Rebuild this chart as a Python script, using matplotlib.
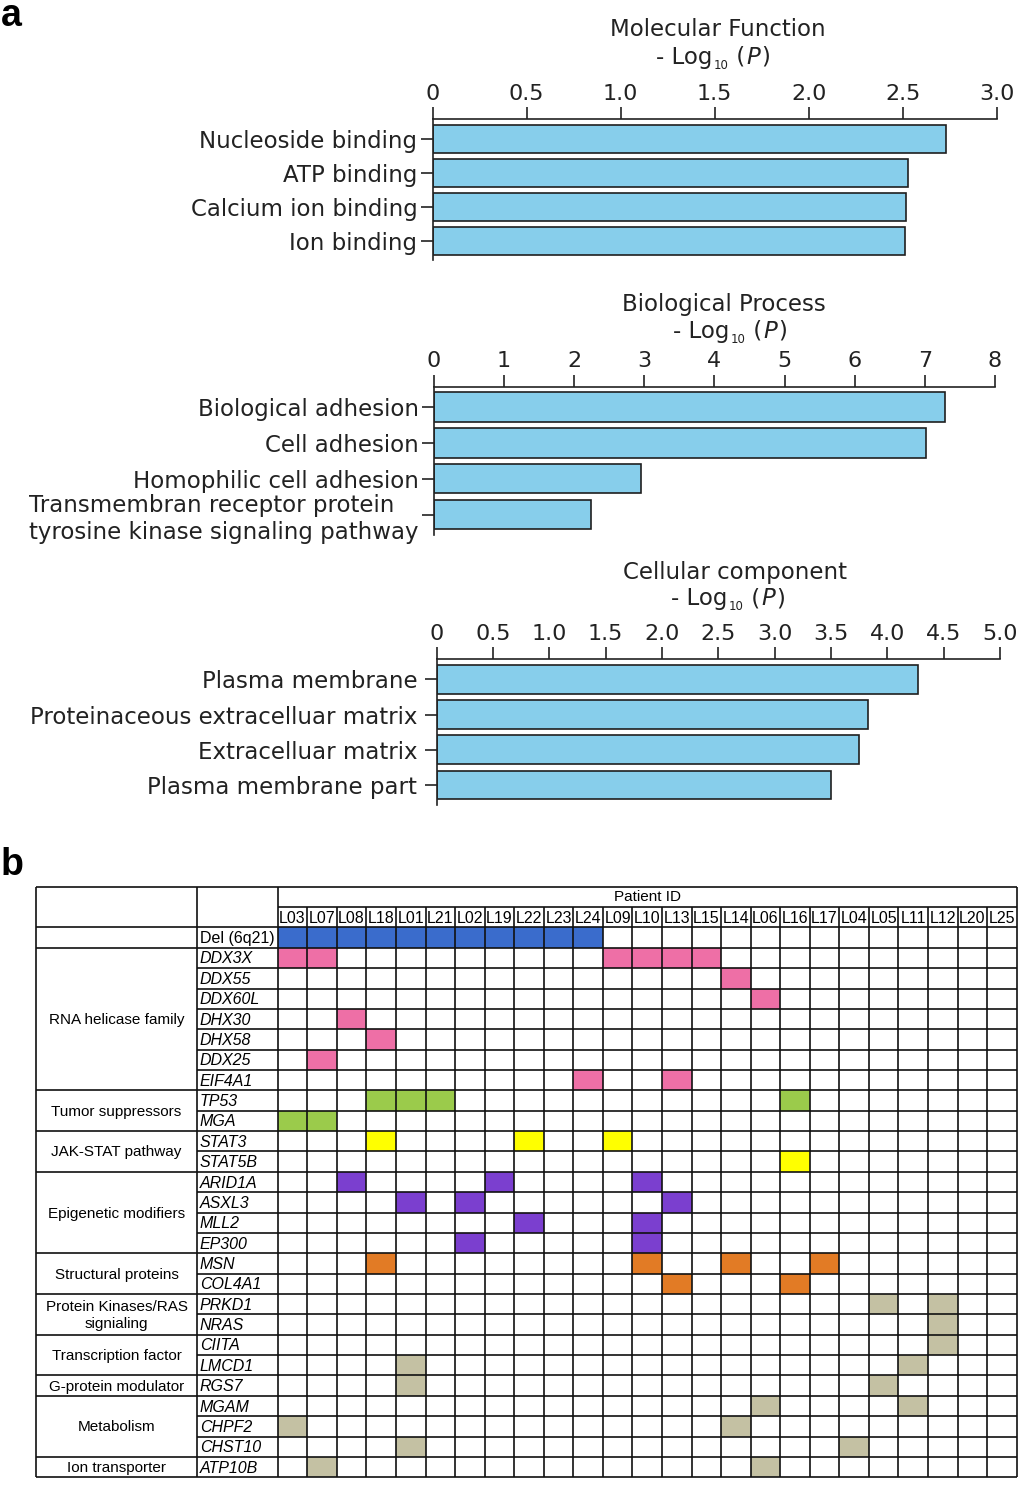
import numpy as np
import matplotlib.pyplot as plt

plt.rcParams['font.family'] = 'DejaVu Sans'

W, H = 1024, 1485

# ---- panel a : GO enrichment ----
mf_terms = ['Nucleoside binding', 'ATP binding', 'Calcium ion binding', 'Ion binding']
mf_vals = [2.73, 2.53, 2.52, 2.51]
mf_ticks = ['0', '0.5', '1.0', '1.5', '2.0', '2.5', '3.0']

bp_terms = ['Biological adhesion', 'Cell adhesion', 'Homophilic cell adhesion',
            'Transmembran receptor protein\ntyrosine kinase signaling pathway']
bp_vals = [7.29, 7.01, 2.95, 2.24]
bp_ticks = ['0', '1', '2', '3', '4', '5', '6', '7', '8']

cc_terms = ['Plasma membrane', 'Proteinaceous extracelluar matrix', 'Extracelluar matrix',
            'Plasma membrane part']
cc_vals = [4.27, 3.83, 3.75, 3.50]
cc_ticks = ['0', '0.5', '1.0', '1.5', '2.0', '2.5', '3.0', '3.5', '4.0', '4.5', '5.0']

# ---- panel b : mutation table ----
patients = ['L03', 'L07', 'L08', 'L18', 'L01', 'L21', 'L02', 'L19', 'L22', 'L23', 'L24',
            'L09', 'L10', 'L13', 'L15', 'L14', 'L06', 'L16', 'L17', 'L04', 'L05', 'L11',
            'L12', 'L20', 'L25']
groups = ['RNA helicase family', 'Tumor suppressors', 'JAK-STAT pathway', 'Epigenetic modifiers',
          'Structural proteins', 'Protein Kinases/RAS\nsignialing', 'Transcription factor',
          'G-protein modulator', 'Metabolism', 'Ion transporter']
group_sizes = [7, 2, 2, 4, 2, 2, 2, 1, 3, 1]
group_colors = ['#ee6fa6', '#9bcb4b', '#ffff00', '#7b3fcf', '#e27b25', '#c4c1a3',
                '#c4c1a3', '#c4c1a3', '#c4c1a3', '#c4c1a3']
genes = ['DDX3X', 'DDX55', 'DDX60L', 'DHX30', 'DHX58', 'DDX25', 'EIF4A1',
         'TP53', 'MGA', 'STAT3', 'STAT5B',
         'ARID1A', 'ASXL3', 'MLL2', 'EP300', 'MSN', 'COL4A1', 'PRKD1', 'NRAS',
         'CIITA', 'LMCD1', 'RGS7', 'MGAM', 'CHPF2', 'CHST10', 'ATP10B']
del_color = '#3a6ccc'
del_6q21 = ['L03', 'L07', 'L08', 'L18', 'L01', 'L21', 'L02', 'L19', 'L22', 'L23', 'L24']
hits = {
    'DDX3X': ['L03', 'L07', 'L09', 'L10', 'L13', 'L15'],
    'DDX55': ['L14'],
    'DDX60L': ['L06'],
    'DHX30': ['L08'],
    'DHX58': ['L18'],
    'DDX25': ['L07'],
    'EIF4A1': ['L24', 'L13'],
    'TP53': ['L18', 'L01', 'L21', 'L16'],
    'MGA': ['L03', 'L07'],
    'STAT3': ['L18', 'L22', 'L09'],
    'STAT5B': ['L16'],
    'ARID1A': ['L08', 'L19', 'L10'],
    'ASXL3': ['L01', 'L02', 'L13'],
    'MLL2': ['L22', 'L10'],
    'EP300': ['L02', 'L10'],
    'MSN': ['L18', 'L10', 'L14', 'L17'],
    'COL4A1': ['L13', 'L16'],
    'PRKD1': ['L05', 'L12'],
    'NRAS': ['L12'],
    'CIITA': ['L12'],
    'LMCD1': ['L01', 'L11'],
    'RGS7': ['L01', 'L05'],
    'MGAM': ['L06', 'L11'],
    'CHPF2': ['L03', 'L14'],
    'CHST10': ['L01', 'L04'],
    'ATP10B': ['L07', 'L06'],
}

fig = plt.figure(figsize=(W / 100, H / 100), dpi=100)
renderer = fig.canvas.get_renderer()
txt_c = '#222222'


def px_axes(left, top, right, bottom):
    return fig.add_axes([left / W, 1 - bottom / H, (right - left) / W, (bottom - top) / H])


def px_text(x, y, s, **kw):
    return fig.text(x / W, 1 - y / H, s, **kw)


def log_label(cx, y):
    # "- Log10 (P)" with a small subscript and italic P
    parts = [('- Log', 16.5, 'normal', 0), ('10', 8.5, 'normal', 5), (' (', 16.5, 'normal', 0),
             ('P', 16.5, 'italic', 0), (')', 16.5, 'normal', 0)]
    widths = []
    for s, fs, st, dy in parts:
        t = px_text(0, 0, s, fontsize=fs, style=st)
        widths.append(t.get_window_extent(renderer).width)
        t.remove()
    x = cx - sum(widths) / 2
    for (s, fs, st, dy), w in zip(parts, widths):
        px_text(x, y + 7 + dy, s, fontsize=fs, style=st, ha='left', va='baseline', color=txt_c)
        x += w + 1


def go_panel(box, terms, vals, ticklabels, step, label_pad):
    ax = px_axes(*box)
    y = np.arange(len(terms))
    ax.barh(y, vals, height=0.82, color='#87ceeb', edgecolor='#1f1f1f', linewidth=1.2)
    xmax = step * (len(ticklabels) - 1)
    ax.set_xlim(0, xmax)
    ax.set_ylim(len(terms) - 0.43, -0.57)
    ax.xaxis.tick_top()
    ax.set_xticks(np.arange(len(ticklabels)) * step)
    ax.set_xticklabels(ticklabels, fontsize=16, color=txt_c)
    ax.set_yticks(y)
    ax.set_yticklabels(terms, fontsize=16.5, color=txt_c, multialignment='left')
    ax.tick_params(axis='x', length=9, width=1.2, pad=2, color=txt_c)
    ax.tick_params(axis='y', length=9, width=1.2, pad=label_pad, color=txt_c)
    for s in ['right', 'bottom']:
        ax.spines[s].set_visible(False)
    for s in ['top', 'left']:
        ax.spines[s].set_linewidth(1.2)
        ax.spines[s].set_color(txt_c)
    return ax


go_panel((432.7, 119.3, 996.7, 260), mf_terms, mf_vals, mf_ticks, 0.5, 2)
px_text(718, 30, 'Molecular Function', fontsize=16.5, ha='center', va='center', color=txt_c)
log_label(711, 57)

go_panel((433.9, 386.7, 995, 535), bp_terms, bp_vals, bp_ticks, 1, 2)
px_text(724, 304, 'Biological Process', fontsize=16.5, ha='center', va='center', color=txt_c)
log_label(728, 331)

go_panel((436.8, 659.3, 999.8, 805), cc_terms, cc_vals, cc_ticks, 0.5, 5)
px_text(735, 572, 'Cellular component', fontsize=16.5, ha='center', va='center', color=txt_c)
log_label(726, 598)

px_text(1, 16, 'a', fontsize=27, fontweight='bold', ha='left', va='center', family='Liberation Sans')
px_text(1, 865, 'b', fontsize=27, fontweight='bold', ha='left', va='center', family='Liberation Sans')

# ---- table ----
tf = 'Liberation Sans'
colw = (1016.7 - 277.7) / len(patients)
c1 = -(277.7 - 197.3) / colw
c0 = -(277.7 - 35.7) / colw
n = len(patients)
ng = len(genes)

ax = px_axes(35.7, 886.7, 1016.7, 1477.3)
ax.set_xlim(c0, n)
ax.set_ylim(ng, -3)
ax.axis('off')

pidx = {p: i for i, p in enumerate(patients)}

# coloured cells
ax.bar([pidx[p] for p in del_6q21], 1, bottom=-1, width=1, align='edge',
       color=del_color, linewidth=0)
gene_color = []
for g, size, col in zip(groups, group_sizes, group_colors):
    gene_color += [col] * size
for r, g in enumerate(genes):
    ax.bar([pidx[p] for p in hits[g]], 1, bottom=r, width=1, align='edge',
           color=gene_color[r], linewidth=0)

lw = 1.2
lc = '#111111'
kw = dict(colors=lc, linewidth=lw, clip_on=False, zorder=3)
# horizontal lines
ax.hlines([-3, -1, 0, ng], c0, n, **kw)
ax.hlines([-2], 0, n, **kw)
ax.hlines(np.arange(1, ng), c1, n, **kw)
bounds = np.cumsum(group_sizes)[:-1]
ax.hlines(bounds, c0, c1, **kw)
# vertical lines
ax.vlines([c0, c1, 0, n], -3, ng, **kw)
ax.vlines(np.arange(1, n), -2, ng, **kw)

# text
ax.text(n / 2, -2.5, 'Patient ID', ha='center', va='center', fontsize=11, family=tf)
for i, p in enumerate(patients):
    ax.text(i + 0.5, -1.45, p, ha='center', va='center', fontsize=11.5, family=tf)
ax.text(c1 + 0.08, -0.45, 'Del (6q21)', ha='left', va='center', fontsize=11.5, family=tf)
for r, g in enumerate(genes):
    ax.text(c1 + 0.08, r + 0.55, g, ha='left', va='center', fontsize=11.5, family=tf,
            style='italic')
start = 0
for g, size in zip(groups, group_sizes):
    ax.text((c0 + c1) / 2, start + size / 2 + 0.05, g, ha='center', va='center',
            fontsize=11, family=tf, linespacing=1.3)
    start += size

plt.savefig('out.png', dpi=100)
